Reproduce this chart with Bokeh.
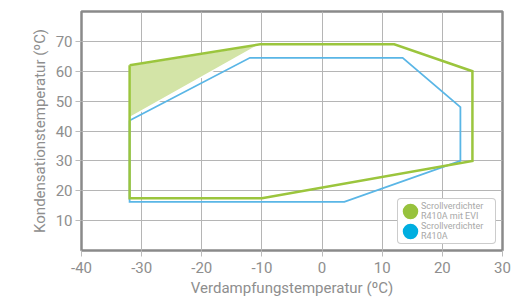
from bokeh.plotting import figure
from bokeh.models import FixedTicker, Legend, LegendItem, ColumnDataSource, Range1d
from bokeh.embed import file_html
from bokeh.resources import INLINE

# Data
evi_x = [-32, -10.3, 12, 25, 25, -10, -32, -32]
evi_y = [62, 69, 69, 60, 30, 17.5, 17.5, 62]
r410_x = [-32, -12, 13.4, 23, 23, 3.7, -32, -32]
r410_y = [43.5, 64.5, 64.5, 48, 30, 16.3, 16.3, 43.5]
fill_x = [-32, -10.3, -32]
fill_y = [62, 69, 44.5]
x_ticks = [-40, -30, -20, -10, 0, 10, 20, 30]
y_ticks = [10, 20, 30, 40, 50, 60, 70]
label_evi = "Scrollverdichter\nR410A mit EVI"
label_r410 = "Scrollverdichter\nR410A"

GREEN = "#9bc53d"
BLUE = "#5ab6e6"
TXT = "#8e8e8e"
FONT = "Roboto"

p = figure(width=532, height=299, x_range=(-40, 30), y_range=(0, 80),
           output_backend="svg", toolbar_location=None,
           min_border_left=81, min_border_right=30, min_border_top=11, min_border_bottom=10)
# off-screen range used only by the legend proxy glyphs
p.extra_y_ranges = {"legend_only": Range1d(start=1000, end=1001)}

p.outline_line_color = "#8a8a8a"
p.outline_line_width = 2.5
p.background_fill_color = "white"

for ax in (p.xaxis[0], p.yaxis[0]):
    ax.axis_line_color = None
    ax.major_tick_line_color = "#bbbbbb"
    ax.major_tick_in = 0
    ax.major_tick_out = 6
    ax.minor_tick_line_color = None
    ax.major_label_text_color = TXT
    ax.major_label_text_font = FONT
    ax.major_label_text_font_size = "15px"
    ax.axis_label_text_color = TXT
    ax.axis_label_text_font = FONT
    ax.axis_label_text_font_size = "15px"
    ax.axis_label_text_font_style = "normal"

p.xaxis.ticker = FixedTicker(ticks=x_ticks)
p.yaxis.ticker = FixedTicker(ticks=y_ticks)
p.xaxis.major_label_overrides = {t: str(t) for t in x_ticks}
p.yaxis.major_label_overrides = {t: str(t) for t in y_ticks}
p.xaxis.major_label_standoff = 5
p.yaxis.major_label_standoff = 3
p.xaxis.axis_label_standoff = 3
p.yaxis.axis_label_standoff = 4
p.xaxis.axis_label = "Verdampfungstemperatur (ºC)"
p.yaxis.axis_label = "Kondensationstemperatur (ºC)"

p.xgrid.grid_line_color = "#b5b5b5"
p.ygrid.grid_line_color = "#b5b5b5"
p.xgrid.grid_line_width = 1
p.ygrid.grid_line_width = 1

p.patch(fill_x, fill_y, fill_color="#d3e4a7", line_color="white", line_width=1.5)
p.line(r410_x, r410_y, line_color=BLUE, line_width=1.8, line_join="miter")
p.line(evi_x, evi_y, line_color=GREEN, line_width=2.5, line_join="miter")

# legend proxies: one vertex each, mapped to an off-screen range (not visible in the plot)
g_src = ColumnDataSource(dict(x=evi_x[:1], y=evi_y[:1]))
b_src = ColumnDataSource(dict(x=r410_x[:1], y=r410_y[:1]))
g_leg = p.scatter("x", "y", source=g_src, y_range_name="legend_only",
                  marker="circle", size=8, fill_color="#97c23d",
                  line_color="#97c23d", line_width=7.5)
b_leg = p.scatter("x", "y", source=b_src, y_range_name="legend_only",
                  marker="circle", size=8, fill_color="#00aee0",
                  line_color="#00aee0", line_width=7.5)

legend = Legend(items=[LegendItem(label=label_evi, renderers=[g_leg]),
                       LegendItem(label=label_r410, renderers=[b_leg])],
                location="bottom_right", margin=6, padding=2, spacing=0,
                glyph_width=20, glyph_height=20, label_standoff=1,
                label_width=72, label_text_font=FONT, label_text_font_size="9px",
                label_text_color="#a8a8a8", border_line_color="#9a9a9a",
                border_line_width=1.2, background_fill_alpha=1.0,
                border_radius=4)
p.add_layout(legend, "center")

open("out.html", "w").write(file_html(p, INLINE))
